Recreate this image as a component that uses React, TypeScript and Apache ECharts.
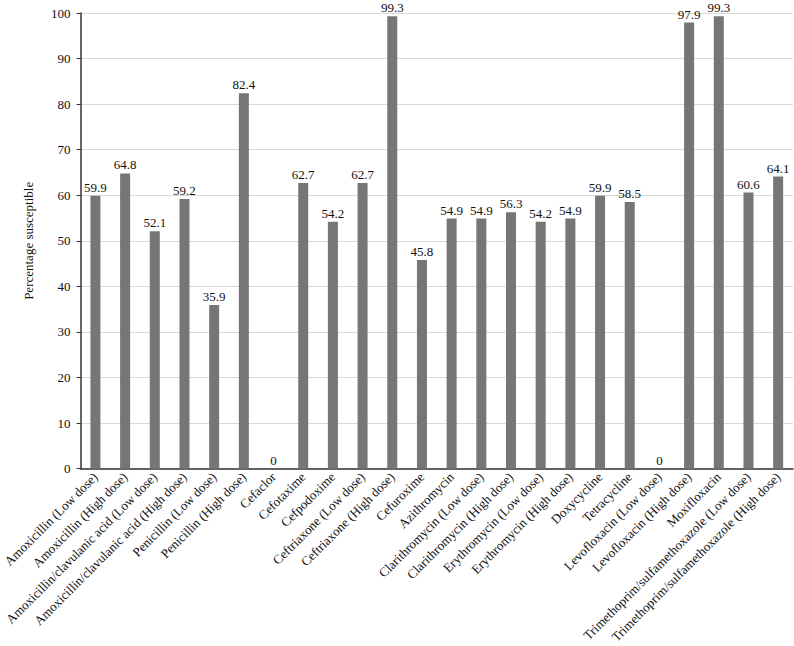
import React, { useEffect, useRef } from "react";
import * as echarts from "echarts";

const categories = [
  "Amoxicillin (Low dose)",
  "Amoxicillin (High dose)",
  "Amoxicillin/clavulanic acid (Low dose)",
  "Amoxicillin/clavulanic acid (High dose)",
  "Penicillin (Low dose)",
  "Penicillin (High dose)",
  "Cefaclor",
  "Cefotaxime",
  "Cefpodoxime",
  "Ceftriaxone (Low dose)",
  "Ceftriaxone (High dose)",
  "Cefuroxime",
  "Azithromycin",
  "Clarithromycin (Low dose)",
  "Clarithromycin (High dose)",
  "Erythromycin (Low dose)",
  "Erythromycin (High dose)",
  "Doxycycline",
  "Tetracycline",
  "Levofloxacin (Low dose)",
  "Levofloxacin (High dose)",
  "Moxifloxacin",
  "Trimethoprim/sulfamethoxazole (Low dose)",
  "Trimethoprim/sulfamethoxazole (High dose)",
];

const susceptible = [
  59.9, 64.8, 52.1, 59.2, 35.9, 82.4, 0, 62.7, 54.2, 62.7, 99.3, 45.8, 54.9,
  54.9, 56.3, 54.2, 54.9, 59.9, 58.5, 0, 97.9, 99.3, 60.6, 64.1,
];

const yTicks = { min: 0, max: 100, interval: 10 };
const yAxisTitle = "Percentage susceptible";

const FONT = "Liberation Serif";

export default function App() {
  const ref = useRef<HTMLDivElement>(null);
  useEffect(() => {
    if (!ref.current) return;
    const chart = echarts.init(ref.current, undefined, { renderer: "svg" });
    chart.setOption({
      animation: false,
      textStyle: { fontFamily: FONT },
      grid: { left: 74, right: 1, top: 13, bottom: 174, containLabel: false },
      xAxis: {
        type: "category",
        data: categories,
        axisLine: { lineStyle: { color: "#333", width: 1.5 } },
        axisTick: { alignWithLabel: true, length: 5, lineStyle: { color: "#333" } },
        axisLabel: {
          rotate: 45,
          interval: 0,
          fontFamily: FONT,
          fontSize: 13,
          color: "#111",
          margin: 6,
        },
      },
      yAxis: {
        type: "value",
        min: yTicks.min,
        max: yTicks.max,
        interval: yTicks.interval,
        name: yAxisTitle,
        nameLocation: "middle",
        nameGap: 46,
        nameTextStyle: { fontFamily: FONT, fontSize: 13, color: "#111" },
        axisLine: { show: true, lineStyle: { color: "#333", width: 1.5 } },
        axisTick: { show: true, length: 4, lineStyle: { color: "#333" } },
        axisLabel: { fontFamily: FONT, fontSize: 13, color: "#111", margin: 10 },
        splitLine: { lineStyle: { color: "#d9d9d9", width: 1 } },
      },
      series: [
        {
          type: "bar",
          data: susceptible,
          barWidth: 10,
          itemStyle: { color: "#767676" },
          label: {
            show: true,
            position: "top",
            distance: 2,
            fontFamily: FONT,
            fontSize: 13,
            color: "#111",
          },
        },
      ],
    });
    return () => chart.dispose();
  }, []);
  return <div ref={ref} style={{ width: 794, height: 646, position: "absolute", left: 0, top: 0, background: "#fff" }} />;
}
